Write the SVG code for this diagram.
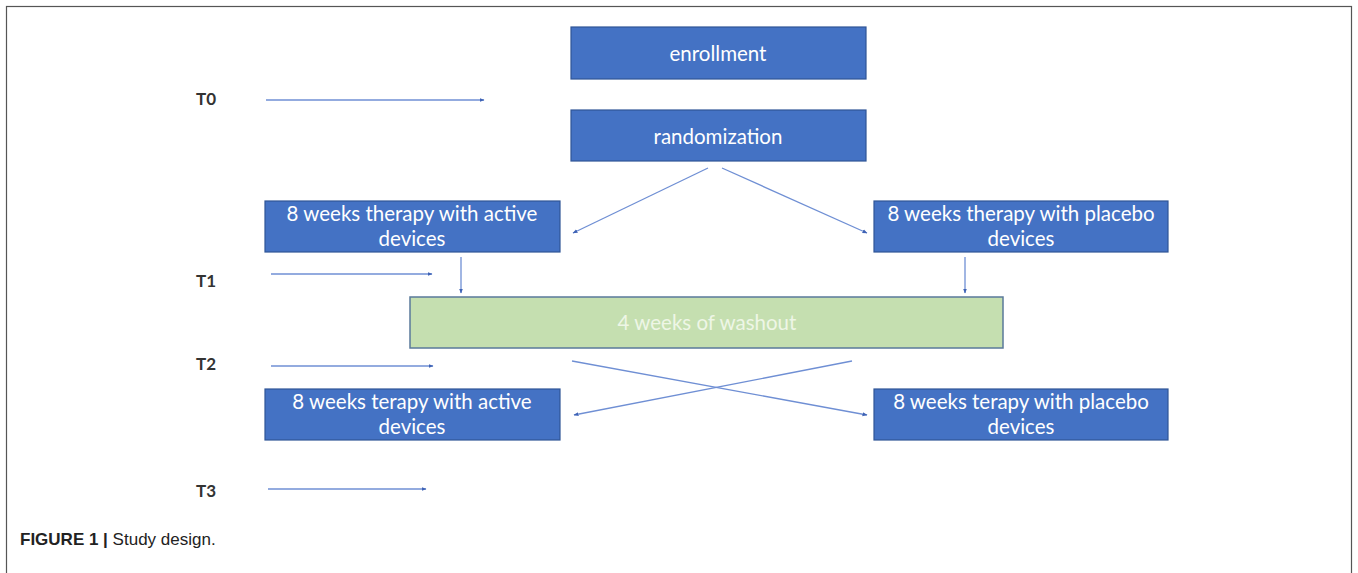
<svg xmlns="http://www.w3.org/2000/svg" width="1358" height="573" viewBox="0 0 1358 573">
<style>
.box{fill:#4472c4;stroke:#2f5597;stroke-width:1.2}
.wash{fill:#c5dfb0;stroke:#5a7a9a;stroke-width:1.5}
.bt{font-family:Lato,"Open Sans",sans-serif;font-size:20.5px;fill:#ffffff;text-anchor:middle}
.wt{font-family:Lato,"Open Sans",sans-serif;font-size:20.5px;fill:#eef6e6;text-anchor:middle}
.tl{font-family:Lato,"Open Sans",sans-serif;font-size:17px;font-weight:bold;fill:#333333}
.ln{stroke:#6f8fd4;stroke-width:1.3;fill:none;marker-end:url(#ah)}
.cap{font-family:"Liberation Sans Narrow","Liberation Sans",sans-serif;font-size:17px;fill:#222222}
</style>
<defs>
<marker id="ah" viewBox="0 0 10 10" refX="9" refY="5" markerWidth="5" markerHeight="5" orient="auto" markerUnits="userSpaceOnUse">
<path d="M0,1 L10,5 L0,9 Z" fill="#3f63b5"/>
</marker>
</defs>
<rect x="6.5" y="6.5" width="1345" height="580" fill="#ffffff" stroke="#555555" stroke-width="1.2"/>
<g id="enrollment"><rect class="box" x="571" y="27" width="295" height="52"/><text class="bt" x="718" y="61">enrollment</text></g>
<g id="randomization"><rect class="box" x="571" y="110" width="295" height="51"/><text class="bt" x="718" y="144">randomization</text></g>
<g id="active1"><rect class="box" x="265" y="201" width="295" height="51"/><text class="bt" x="412" y="221">8 weeks therapy with active</text><text class="bt" x="412" y="246">devices</text></g>
<g id="placebo1"><rect class="box" x="874" y="201" width="294" height="51"/><text class="bt" x="1021" y="221">8 weeks therapy with placebo</text><text class="bt" x="1021" y="246">devices</text></g>
<g id="washout"><rect class="wash" x="410" y="297" width="593" height="51"/><text class="wt" x="707" y="330">4 weeks of washout</text></g>
<g id="active2"><rect class="box" x="265" y="389" width="295" height="51"/><text class="bt" x="412" y="409">8 weeks terapy with active</text><text class="bt" x="412" y="434">devices</text></g>
<g id="placebo2"><rect class="box" x="874" y="389" width="294" height="51"/><text class="bt" x="1021" y="409">8 weeks terapy with placebo</text><text class="bt" x="1021" y="434">devices</text></g>
<g id="T0"><text class="tl" x="196" y="105">T0</text></g>
<g id="T1"><text class="tl" x="196" y="287">T1</text></g>
<g id="T2"><text class="tl" x="196" y="370">T2</text></g>
<g id="T3"><text class="tl" x="196" y="497">T3</text></g>
<g id="connectors">
<line class="ln" x1="266" y1="100" x2="484" y2="100"/>
<line class="ln" x1="271" y1="274" x2="432" y2="274"/>
<line class="ln" x1="271" y1="366" x2="433" y2="366"/>
<line class="ln" x1="268" y1="489" x2="426" y2="489"/>
<line class="ln" x1="708" y1="168" x2="573" y2="233"/>
<line class="ln" x1="722" y1="168" x2="867" y2="233"/>
<line class="ln" x1="461" y1="257" x2="461" y2="293"/>
<line class="ln" x1="965" y1="257" x2="965" y2="293"/>
<line class="ln" x1="572" y1="361" x2="867" y2="415"/>
<line class="ln" x1="852" y1="361" x2="574" y2="415"/>
</g>
<g id="caption"><text class="cap" x="20" y="545"><tspan font-weight="bold">FIGURE 1 |</tspan> Study design.</text></g>
</svg>
